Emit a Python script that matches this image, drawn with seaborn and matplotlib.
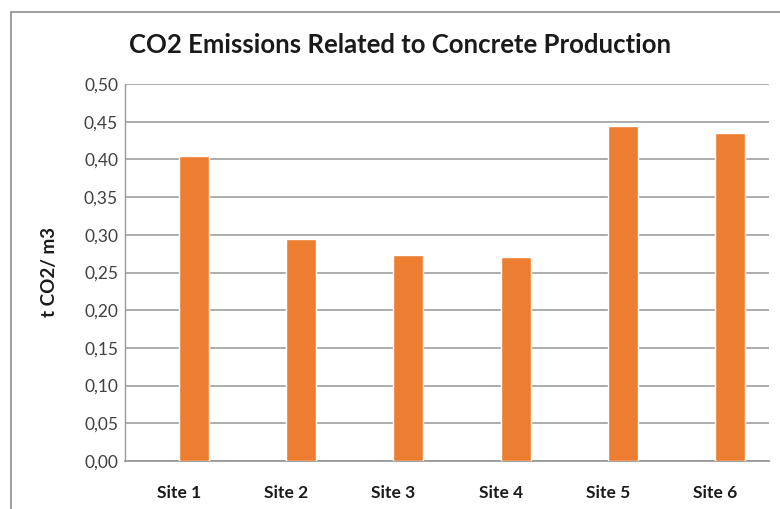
import matplotlib
matplotlib.use("Agg")
import matplotlib.pyplot as plt
import matplotlib.patches as mpatches
import seaborn as sns
import pandas as pd
import numpy as np

sites = ["Site 1", "Site 2", "Site 3", "Site 4", "Site 5", "Site 6"]
emissions = [0.405, 0.295, 0.273, 0.271, 0.444, 0.435]
y_ticks = [0.00, 0.05, 0.10, 0.15, 0.20, 0.25, 0.30, 0.35, 0.40, 0.45, 0.50]
title = "CO2 Emissions Related to Concrete Production"
y_label = "t CO2/ m3"
series = ["(empty)", "CO2"]

sns.set_theme(style="white")
plt.rcParams["font.family"] = ["Lato", "DejaVu Sans"]

W, H = 780, 509
fig = plt.figure(figsize=(W / 100, H / 100), dpi=100)
fig.patch.set_facecolor("white")

# outer chart border (cropped on right/bottom)
fig.patches.append(mpatches.Rectangle((11 / W, -0.1), 1.2, (H - 12) / H + 0.1,
                                      transform=fig.transFigure, fill=False,
                                      edgecolor="#8c8c8c", linewidth=1.2))

left, right, top, bottom = 125, 769, 84, 461
ax = fig.add_axes([left / W, (H - bottom) / H, (right - left) / W, (bottom - top) / H])

df = pd.DataFrame({
    "site": sites * 2,
    "series": [series[0]] * len(sites) + [series[1]] * len(sites),
    "value": [np.nan] * len(sites) + emissions,
})
sns.barplot(data=df, x="site", y="value", hue="series", hue_order=series,
            palette=["#ffffff", "#ED7D31"], saturation=1, width=0.56,
            errorbar=None, legend=False, ax=ax, zorder=3)

ax.set_xlim(-0.5, 5.5)
ax.set_ylim(0, 0.5)
ax.set_yticks(y_ticks)
ax.set_yticklabels([f"{v:.2f}".replace(".", ",") for v in y_ticks],
                   fontsize=12.5, color="#404040")
ax.set_xticks(range(len(sites)))
ax.set_xticklabels(sites, fontsize=12.5, fontweight="bold", color="#1a1a1a")
ax.tick_params(axis="y", length=0, pad=5)
ax.tick_params(axis="x", length=0, pad=17)
ax.yaxis.grid(True, color="#a6a6a6", linewidth=1.3, zorder=0)
ax.set_axisbelow(True)
for s in ["top", "right"]:
    ax.spines[s].set_visible(False)
ax.spines["left"].set_color("#9a9a9a")
ax.spines["bottom"].set_color("#9a9a9a")
ax.spines["left"].set_linewidth(1.0)
ax.spines["bottom"].set_linewidth(1.3)
ax.set_xlabel("")
ax.set_ylabel("")

fig.text(50 / W, 1 - 272 / H, y_label, rotation=90, ha="center", va="center",
         fontsize=13.5, fontweight="bold", color="#1a1a1a")
fig.text(400 / W, 1 - 45 / H, title, ha="center", va="center",
         fontsize=18.5, fontweight="bold", color="#1a1a1a")

fig.savefig("out.png", dpi=100)
